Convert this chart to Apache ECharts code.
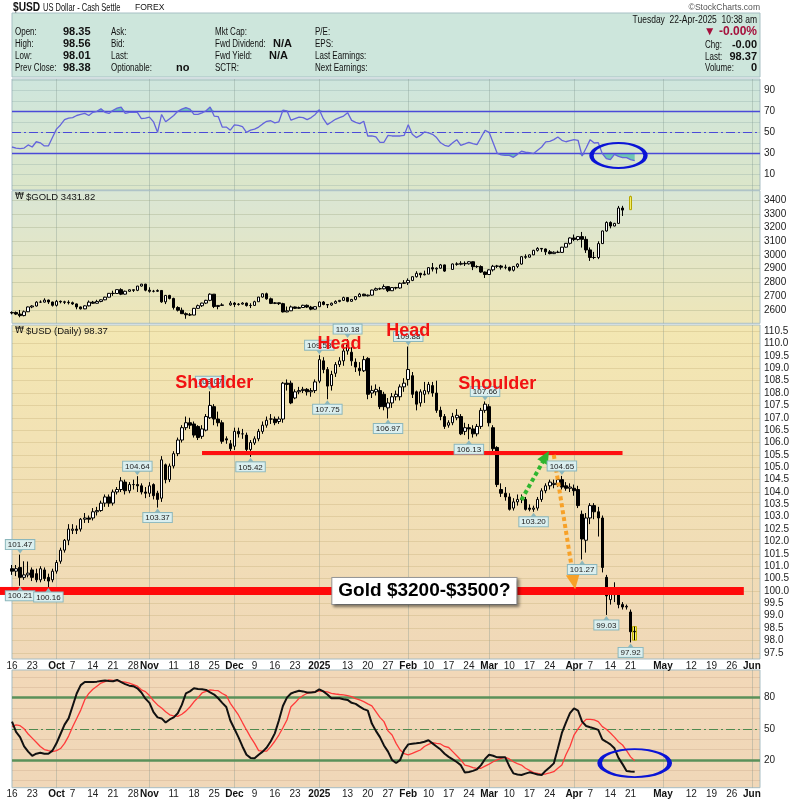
<!DOCTYPE html>
<html><head><meta charset="utf-8">
<script src="https://cdn.jsdelivr.net/npm/echarts@6/dist/echarts.min.js"></script>
<style>html,body{margin:0;padding:0;background:#fff}#c{width:798px;height:800px}</style>
</head><body><div id="c"></div><script>
// ---------- DATA ----------
const firstDay = '2024-09-16', lastDay = '2025-06-04';
const holidays = ['2024-12-25', '2025-01-01'];
const tickLabels = [['2024-09-16','16'],['2024-09-23','23'],['2024-10-01','Oct'],['2024-10-07','7'],['2024-10-14','14'],['2024-10-21','21'],['2024-10-28','28'],['2024-11-01','Nov'],['2024-11-11','11'],['2024-11-18','18'],['2024-11-25','25'],['2024-12-02','Dec'],['2024-12-09','9'],['2024-12-16','16'],['2024-12-23','23'],['2025-01-02','2025'],['2025-01-13','13'],['2025-01-20','20'],['2025-01-27','27'],['2025-02-03','Feb'],['2025-02-10','10'],['2025-02-17','17'],['2025-02-24','24'],['2025-03-03','Mar'],['2025-03-10','10'],['2025-03-17','17'],['2025-03-24','24'],['2025-04-01','Apr'],['2025-04-07','7'],['2025-04-14','14'],['2025-04-21','21'],['2025-05-01','May'],['2025-05-12','12'],['2025-05-19','19'],['2025-05-26','26'],['2025-06-02','Jun']];
const monthStarts = ['2024-10-01','2024-11-01','2024-12-02','2025-01-02','2025-02-03','2025-03-03','2025-04-01','2025-05-01','2025-06-02'];

// $USD daily [open, close, low, high]
const usd = [
[100.90,100.80,100.65,101.05],[100.80,100.90,100.60,101.05],[100.95,100.55,100.21,101.47],[100.55,100.65,100.45,101.20],[100.65,100.72,100.55,101.19],
[100.85,100.55,100.40,100.95],[100.70,100.45,100.35,100.90],[100.45,100.90,100.35,101.00],[100.85,100.50,100.40,100.95],[100.55,100.40,100.16,100.70],
[100.45,100.80,100.35,100.90],[100.80,101.15,100.70,101.25],[101.20,101.65,101.10,101.75],[101.65,102.05,101.55,102.10],[102.05,102.50,101.85,102.70],
[102.45,102.50,102.30,102.70],[102.50,102.45,102.30,102.65],[102.50,102.90,102.40,102.95],[102.90,102.95,102.75,103.15],[102.95,102.90,102.75,103.05],
[102.95,103.20,102.85,103.35],[103.20,103.25,103.05,103.40],[103.25,103.55,103.20,103.65],[103.55,103.80,103.40,103.90],[103.80,103.55,103.40,103.90],
[103.55,104.00,103.45,104.10],[104.00,104.10,103.90,104.20],[104.10,104.45,104.00,104.60],[104.40,104.05,103.90,104.50],[104.05,104.30,103.95,104.40],
[104.30,104.30,104.10,104.50],[104.30,104.25,104.00,104.64],[104.25,104.00,103.90,104.35],[104.00,103.95,103.75,104.20],[103.95,104.25,103.80,104.40],
[104.30,103.85,103.70,104.35],[103.95,103.70,103.37,104.05],[103.75,105.30,103.60,105.45],[105.10,104.50,104.35,105.15],[104.50,105.05,104.40,105.15],
[105.05,105.55,104.95,105.65],[105.55,106.10,105.45,106.20],[106.10,106.60,106.00,106.70],[106.60,106.80,106.50,107.05],[106.80,106.70,106.55,107.00],
[106.75,106.30,106.20,106.85],[106.65,106.20,106.10,106.70],[106.25,106.55,106.15,106.70],[106.50,107.05,106.45,107.15],[107.00,107.50,106.95,108.07],
[107.45,106.95,106.70,107.55],[106.95,106.80,106.65,107.25],[106.80,106.05,105.95,106.90],[106.15,106.10,105.95,106.25],[105.95,105.75,105.65,106.10],
[105.85,106.45,105.70,106.60],[106.45,106.35,106.20,106.60],[106.35,106.35,106.15,106.55],[106.30,105.72,105.60,106.40],[105.72,106.00,105.42,106.10],
[105.98,106.15,105.90,106.25],[106.15,106.45,106.05,106.55],[106.45,106.70,106.35,106.85],[106.70,106.90,106.60,107.05],[106.95,106.95,106.75,107.15],
[106.95,106.80,106.70,107.05],[106.85,106.95,106.75,107.05],[106.95,108.40,106.80,108.45],[108.40,108.35,108.10,108.55],[108.40,107.60,107.55,108.50],
[107.80,108.05,107.75,108.15],[108.05,108.10,107.95,108.25],[108.10,108.15,108.00,108.25],[108.15,108.05,107.90,108.20],[108.05,108.10,107.85,108.20],
[108.10,108.45,108.00,108.55],[108.48,109.35,108.40,109.53],[109.30,108.95,108.80,109.45],[108.95,108.28,107.75,109.05],[108.30,108.75,108.10,108.90],
[108.80,109.15,108.65,109.25],[109.15,109.30,109.05,109.45],[109.30,109.70,109.10,109.95],[109.70,109.95,109.55,110.18],[109.65,109.30,109.10,109.85],
[109.25,109.05,108.85,109.40],[109.00,108.90,108.70,109.25],[108.90,109.35,108.85,109.50],[109.40,107.95,107.75,109.45],[108.00,108.10,107.80,108.30],
[108.05,108.15,107.90,108.35],[108.10,107.45,107.35,108.25],[107.95,107.45,107.30,108.05],[107.40,107.60,106.97,107.80],[107.60,107.85,107.40,108.00],
[107.85,107.95,107.70,108.10],[107.85,108.25,107.70,108.35],[108.25,108.40,108.05,108.60],[108.55,108.95,108.30,109.88],[108.70,107.95,107.80,108.85],
[108.05,107.55,107.30,108.10],[107.60,108.05,107.45,108.15],[107.95,108.10,107.60,108.45],[108.05,108.35,107.95,108.45],[108.30,108.00,107.85,108.45],
[108.00,107.30,107.20,108.50],[107.30,107.05,106.90,107.45],[107.05,106.65,106.55,107.15],[106.70,106.80,106.60,106.90],[106.80,107.05,106.70,107.20],
[107.00,107.10,106.90,107.35],[107.05,106.35,106.30,107.15],[106.45,106.60,106.30,106.80],[106.60,106.55,106.13,106.75],[106.55,106.35,106.20,106.70],
[106.35,106.65,106.25,106.75],[106.65,107.30,106.55,107.40],[107.30,107.55,107.20,107.66],[107.45,106.80,106.65,107.55],[106.60,105.75,105.60,106.70],
[105.80,104.30,104.20,105.85],[104.10,103.95,103.80,104.35],[103.95,103.80,103.65,104.20],[103.80,103.30,103.25,103.95],[103.35,103.60,103.25,103.75],
[103.60,103.70,103.45,103.90],[103.70,103.75,103.55,103.90],[103.70,103.30,103.25,103.80],[103.35,103.30,103.22,103.50],[103.30,103.35,103.20,103.45],
[103.35,103.70,103.25,103.80],[103.70,104.05,103.60,104.15],[104.05,104.25,103.95,104.35],[104.25,104.40,104.10,104.50],[104.30,104.35,104.15,104.50],
[104.30,104.50,104.20,104.60],[104.50,104.20,104.10,104.65],[104.25,104.15,104.05,104.40],[104.15,104.20,104.00,104.35],[104.15,104.05,103.85,104.30],
[104.10,103.45,103.35,104.25],[103.10,102.10,101.27,103.25],[102.05,102.95,101.55,103.15],[102.95,103.45,102.70,103.55],[103.45,103.20,102.90,103.55],
[103.20,102.95,102.20,103.40],[102.95,100.95,100.75,103.05],[100.55,99.80,99.03,100.65],[99.65,99.90,99.45,100.05],[99.85,100.10,99.55,100.35],
[100.05,99.45,99.30,100.15],[99.45,99.35,99.25,99.55],[99.35,99.38,99.25,99.45],[99.15,98.35,97.92,99.25],[98.35,98.37,98.01,98.56]
];

// $GOLD daily [open, close, low, high]; null = no bar
const gold = [
[2578,2582,2568,2590],[2582,2570,2563,2589],[2570,2559,2547,2600],[2559,2587,2554,2596],[2587,2622,2585,2625],
[2622,2629,2613,2634],[2629,2657,2625,2664],[2657,2657,2652,2670],[2657,2672,2654,2685],[2672,2658,2644,2675],
[2658,2634,2625,2660],[2634,2663,2625,2673],[2663,2659,2648,2669],[2659,2656,2643,2667],[2656,2653,2640,2670],
[2653,2644,2637,2661],[2644,2622,2605,2647],[2622,2608,2604,2625],[2608,2630,2606,2634],[2630,2657,2626,2669],
[2657,2649,2645,2666],[2649,2662,2646,2674],[2662,2674,2656,2677],[2674,2693,2671,2696],[2693,2721,2690,2723],
[2721,2720,2703,2740],[2720,2748,2717,2749],[2748,2715,2708,2758],[2715,2736,2712,2741],[2736,2747,2731,2749],
[2747,2743,2731,2749],[2743,2774,2737,2775],[2774,2788,2770,2790],[2788,2744,2736,2790],[2744,2736,2726,2765],
[2736,2736,2728,2746],[2736,2742,2731,2750],[2742,2659,2652,2745],[2659,2706,2643,2709],[2706,2684,2677,2710],
[2684,2618,2603,2689],[2618,2598,2589,2627],[2598,2573,2572,2617],[2573,2565,2536,2582],[2565,2563,2556,2578],
[2563,2612,2562,2615],[2612,2631,2609,2639],[2631,2650,2622,2653],[2650,2670,2643,2674],[2670,2715,2664,2721],
[2715,2625,2614,2716],[2625,2633,2605,2636],[2633,2637,2631,2649],null,[2637,2650,2631,2665],
[2650,2640,2622,2658],[2640,2643,2632,2650],[2643,2650,2639,2657],[2650,2632,2625,2654],[2632,2633,2614,2649],
[2633,2660,2630,2667],[2660,2694,2660,2695],[2694,2718,2690,2721],[2718,2681,2675,2726],[2681,2648,2643,2690],
[2648,2652,2643,2658],[2652,2646,2636,2654],[2646,2586,2582,2652],[2586,2594,2583,2625],[2594,2622,2592,2632],
[2622,2612,2608,2625],[2612,2618,2608,2625],[2618,2634,2615,2638],[2634,2621,2614,2640],[2621,2606,2598,2630],
[2606,2624,2603,2627],[2624,2658,2622,2661],[2658,2640,2634,2665],[2640,2636,2614,2642],[2636,2649,2630,2654],
[2649,2662,2645,2670],[2662,2670,2656,2673],[2670,2690,2665,2697],[2690,2663,2656,2692],[2663,2677,2660,2680],
[2677,2697,2670,2700],[2697,2715,2693,2724],[2715,2703,2701,2718],[2703,2708,2698,2712],[2708,2745,2704,2748],
[2745,2755,2741,2763],[2755,2754,2746,2763],[2754,2770,2750,2786],[2770,2740,2730,2772],[2740,2763,2738,2765],
[2763,2760,2749,2768],[2760,2794,2755,2799],[2794,2798,2790,2817],[2798,2815,2782,2830],[2815,2842,2810,2845],
[2842,2867,2836,2882],[2867,2856,2834,2870],[2856,2861,2852,2886],[2861,2908,2860,2911],[2908,2898,2880,2942],
[2898,2904,2865,2910],[2904,2928,2900,2935],[2928,2883,2877,2930],null,[2895,2935,2893,2938],
[2935,2933,2922,2947],[2933,2939,2925,2955],[2939,2936,2920,2954],[2936,2951,2930,2956],[2951,2915,2890,2953],
[2915,2916,2906,2925],[2916,2876,2870,2925],[2876,2858,2833,2880],[2858,2892,2856,2896],[2892,2918,2880,2928],
[2918,2920,2905,2928],[2920,2911,2894,2928],[2911,2910,2896,2930],[2910,2889,2880,2915],[2889,2917,2880,2920],
[2917,2934,2905,2940],[2934,2988,2930,2990],[2988,2984,2972,3005],[2984,3001,2982,3004],[3001,3034,2999,3038],
[3034,3048,3025,3057],[3048,3044,3023,3047],[3044,3023,3000,3047],[3023,3010,3005,3036],[3010,3020,3007,3027],
[3020,3019,3014,3032],[3019,3057,3016,3059],[3057,3085,3054,3087],[3085,3124,3076,3128],[3124,3113,3101,3149],
[3113,3134,3105,3137],[3134,3114,3054,3168],[3114,3037,3015,3136],[3037,2982,2957,3055],[2982,2982,2970,3023],
[2982,3083,2970,3100],[3083,3175,3080,3177],[3175,3237,3170,3245],[3237,3211,3194,3245],[3211,3230,3209,3234],
[3230,3342,3229,3357],[3342,3327,3284,3358],null,[3330,3425,3328,3431.82]
];

// RSI(14) of $USD
const rsi = [36,35,34.5,35,38,36,41,40,37,37,45,53,57,62,63.5,64,66,67,68,66,69,70,72.5,69,68,71,73,74,68,69,69,69,63,63.5,64.5,60,50,67,60,63,66,70,72,73.5,72,67,67,68.5,70.5,74,65.5,65,55,55,52,57,56.5,55.5,50,52,53,55,58,60.5,61,59,60,71,70.5,61.5,63,64.5,64,62,64,67,71.5,63,57.3,59.8,62.4,64,65.5,68.7,61.4,59.5,58.3,60.5,46.5,46.5,45.6,40.5,40.5,47,46.5,46.5,46.5,47.1,57.3,48.1,45,47,50.3,49.5,48.1,45,40,37.6,36.7,40,43,37.6,39,40.5,39.2,38.3,45,51.9,50,40,30,28.5,28,28,26.2,29,32,31,30.6,29.7,33,36,40.8,41.4,43,45.6,42.4,41,42,43,42.4,27.4,35,43,39.8,40.1,29.7,24.9,24,29,27,25.9,25.9,24,23];
// Slow stochastics %K (black) and %D (red)
const stochK = [57,47,42,33,28,24,26,27,26,26,29,36,45,54,60,72,84,92,95,95,95,95.4,96,96.4,96,95.7,97,95,93,91.5,91,89,85,79,75,66,61,60,56,59,61,65,73,84,86,89,88.3,88,87.4,85,83,79.4,75,71,58,50,42,33,25,22,21.6,25,28,32,38,45.6,58,72,80,84,85.5,86.7,86,85,85,85.5,88,86,83,79.4,79.4,79.4,78.5,77.8,75,74,71.3,69,67.5,55,48,42,34,28,20,17,20,29.6,35,35.7,36,36.5,37.5,39,36,33,30,26,23,20.6,18,15,8,8.5,9.5,11,15,21,25,24,22.5,22.5,22.5,14,7.1,6,5.5,6.8,8.1,7.1,6,5.5,9.7,13,16.7,31,46,56,65,69.7,67.5,56.9,52.7,51.5,50.4,48.9,39.9,37.5,35,31.2,22,16,9.4,9,8.7];
const stochD = [52,53.7,53,50,45,41,37,33,30,28.9,28,29,31,36,43,52,60,68,78,84,88,91,94,95.5,97,96.7,96.4,95.4,95,94,92.5,91,87.5,85.8,82,77,73,70,66.5,63.5,62.5,62,64,67,71,76,80,84.5,86,87.4,87,86.7,84,82,74.5,69,63.3,56,48.9,42,36,29,28.5,28.5,32.8,38,44,51,58.5,71.3,75,79.4,82,84.2,85,85.5,86.4,86,85.5,84.2,83.5,83,82.6,82,81,79,77.8,76.1,74,72,66.5,61,56.9,48,44,36,29.6,26,25,26.4,28,29.6,33,35,36.7,36,35.4,33,32,28,24,20,15,14,12.6,12,12,14,16,18.3,20,21.6,22.5,21,18.3,16.5,15.1,12,10,7.8,7,6.2,6.5,7.5,8.7,12,15.1,25,33,44,50,55.3,59.1,59.1,58.5,56.9,52.1,49.5,46,42,37.5,34.4,29,23,19.3];

const usdTicks = [97.5,98.0,98.5,99.0,99.5,100.0,100.5,101.0,101.5,102.0,102.5,103.0,103.5,104.0,104.5,105.0,105.5,106.0,106.5,107.0,107.5,108.0,108.5,109.0,109.5,110.0,110.5];
const goldTicks = [2600,2700,2800,2900,3000,3100,3200,3300,3400];
const rsiTicks = [10,30,50,70,90];
const stochTicks = [20,50,80];
const oscGrid = [0,10,20,30,40,50,60,70,80,90,100];

// annotated highs (h) / lows (l): [index, 'h'|'l']
const usdNotes = [[2,'h'],[2,'l'],[9,'l'],[31,'h'],[36,'l'],[49,'h'],[59,'l'],[76,'h'],[78,'l'],[83,'h'],[93,'l'],[98,'h'],[113,'l'],[117,'h'],[129,'l'],[136,'h'],[141,'l'],[147,'l'],[153,'l']];
const patternLabels = [['Shoulder',50,108.41],['Head',81,109.98],['Head',98,110.51],['Shoulder',120,108.37]];

// ---------- BUILD ----------
const categories = [];
(function(){
  const d = new Date(firstDay + 'T00:00:00Z'), end = new Date(lastDay + 'T00:00:00Z');
  while (d <= end) {
    const wd = d.getUTCDay(), s = d.toISOString().slice(0,10);
    if (wd !== 0 && wd !== 6 && holidays.indexOf(s) < 0) categories.push(s);
    d.setUTCDate(d.getUTCDate() + 1);
  }
})();
const labelMap = {}; tickLabels.forEach(t => labelMap[t[0]] = t[1]);
const monthSet = new Set(monthStarts);
const F = '"Liberation Sans", Arial, sans-serif';
const LG = (a, b) => new echarts.graphic.LinearGradient(0, 0, 0, 1, [{offset:0,color:a},{offset:1,color:b}]);

function xAx(gi, show) {
  return {type:'category', gridIndex:gi, data:categories, boundaryGap:false,
    axisLine:{show:false}, axisTick:{show:false},
    axisLabel:{show:show, interval:(i,v)=>labelMap[v]!==undefined, margin:2, fontSize:10, color:'#222', fontFamily:F,
      formatter:v => monthSet.has(v) ? '{b|'+labelMap[v]+'}' : labelMap[v],
      rich:{b:{fontWeight:'bold', fontSize:10, color:'#111', fontFamily:F}}},
    splitLine:{show:true, interval:(i,v)=>monthSet.has(v), lineStyle:{color:'rgba(130,150,140,0.35)', width:1}}};
}
function yAx(gi, min, max, ticks, fmt) {
  return {type:'value', gridIndex:gi, position:'right', min:min, max:max, scale:true,
    axisLine:{show:false}, axisTick:{show:false}, splitLine:{show:false},
    axisLabel:{customValues:ticks, fontSize:10, color:'#222', margin:4, fontFamily:F, formatter:fmt || (v=>String(v))}};
}
function gridLines(vals, color) {
  return {silent:true, symbol:'none', z:1, animation:false, label:{show:false},
    lineStyle:{color:color, width:1, type:'solid'}, data: vals.map(v=>({yAxis:v}))};
}
const transparent = 'rgba(0,0,0,0)';
const noteMarks = [], notePtrs = [];
usdNotes.forEach(n => {
  const i = n[0], hi = n[1]==='h', v = hi ? usd[i][3] : usd[i][2];
  noteMarks.push({coord:[i, v], label:{position: hi?'top':'bottom', distance: 5, formatter: v.toFixed(2)}});
  notePtrs.push({coord:[i, v], symbolRotate: hi?180:0, symbolOffset:[0, hi?-3:3]});
});

const usdMain = usd.map((r, i) => i === usd.length-1 ? {value:r, itemStyle:{color:transparent, borderColor:'#000'}} : r);
const usdHighlight = usd.map((r, i) => i === usd.length-1 ? [r[2], r[3], r[2], r[3]] : ['-','-','-','-']);
const goldData = gold.map((r, i) => {
  if (!r) return ['-','-','-','-'];
  if (i === gold.length-1) return {value:r, itemStyle:{color:'#f4ee6a', borderColor:'#b5a600', borderWidth:1}};
  return r;
});

const gridStyle = {show:true, borderColor:'#a7bdc3', borderWidth:1, left:12, right:38, containLabel:false};
const option = {
  animation:false,
  grid:[
    Object.assign({top:79, height:111, backgroundColor:LG('#cee6dd','#dce6c9')}, gridStyle),
    Object.assign({top:190.7, height:132.6, backgroundColor:LG('#d9e6d5','#eee6b8')}, gridStyle),
    Object.assign({top:325, height:334, backgroundColor:LG('#f3e7b2','#f0d8b8')}, gridStyle),
    Object.assign({top:670, height:117.7, backgroundColor:LG('#f2d8b8','#f0d7b8')}, gridStyle)
  ],
  xAxis:[xAx(0,false), xAx(1,false), xAx(2,true), xAx(3,true)],
  yAxis:[
    yAx(0, -4.95, 100.76, rsiTicks),
    yAx(1, 2503, 3468, goldTicks),
    yAx(2, 97.25, 110.75, usdTicks, v=>v.toFixed(1)),
    yAx(3, -6.7, 106.6, stochTicks)
  ],
  series:[
    {type:'line', xAxisIndex:0, yAxisIndex:0, data:rsi, symbol:'none', lineStyle:{opacity:0}, silent:true, z:1,
      markLine:gridLines(oscGrid, 'rgba(120,150,150,0.25)')},
    {type:'line', xAxisIndex:0, yAxisIndex:0, data:rsi.map(v=>Math.max(v,70)), symbol:'none', lineStyle:{opacity:0}, silent:true, z:2,
      areaStyle:{origin:70, color:'#5cbfae', opacity:0.85}},
    {type:'line', xAxisIndex:0, yAxisIndex:0, data:rsi.map(v=>Math.min(v,30)), symbol:'none', lineStyle:{opacity:0}, silent:true, z:2,
      areaStyle:{origin:30, color:'#5cbfae', opacity:0.85}},
    {type:'line', xAxisIndex:0, yAxisIndex:0, data:rsi, symbol:'none', lineStyle:{color:'#6464dc', width:1.3}, z:4, silent:true,
      markLine:{silent:true, symbol:'none', z:3, label:{show:false}, animation:false, data:[
        {yAxis:70, lineStyle:{color:'#4a4ad8', width:1.3, type:'solid'}},
        {yAxis:30, lineStyle:{color:'#4a4ad8', width:1.3, type:'solid'}},
        {yAxis:50, lineStyle:{color:'#4a4ad8', width:1.2, type:[9,3,2,3]}}]},
      markPoint:{silent:true, z:6, animation:false, data:[{coord:[150, 27.9], symbol:'circle', symbolSize:[54,25],
        itemStyle:{color:transparent, borderColor:'#0a14d6', borderWidth:3}, label:{show:false}}]}},
    {type:'candlestick', xAxisIndex:1, yAxisIndex:1, data:goldData, barWidth:3, silent:true, z:4,
      itemStyle:{color:'#ffffff', color0:'#000000', borderColor:'#000000', borderColor0:'#000000', borderWidth:1},
      markLine:gridLines(goldTicks, 'rgba(150,160,120,0.3)')},
    {type:'candlestick', xAxisIndex:2, yAxisIndex:2, data:usdHighlight, barWidth:5, silent:true, z:3,
      itemStyle:{color:'#f4ee6a', color0:'#f4ee6a', borderColor:'#c2b200', borderColor0:'#c2b200', borderWidth:1},
      markLine:gridLines(usdTicks, 'rgba(190,165,110,0.3)')},
    {type:'candlestick', xAxisIndex:2, yAxisIndex:2, data:usdMain, barWidth:3, silent:true, z:4,
      itemStyle:{color:'#ffffff', color0:'#000000', borderColor:'#000000', borderColor0:'#000000', borderWidth:1},
      markLine:{silent:true, symbol:'none', z:5, label:{show:false}, animation:false, data:[
        [{coord:[47,105.59]},{coord:[151,105.59], lineStyle:{color:'#ff1010', width:4, type:'solid'}}],
        [{coord:[0,100.0]},{coord:[181,100.0], lineStyle:{color:'#ff0a0a', width:8, type:'solid'}}],
        [{coord:[126,103.68], symbol:'none'},{coord:[132,105.43], symbol:'triangle', symbolSize:[12,13], lineStyle:{color:'#2fb52f', width:4, type:[4,3]}, itemStyle:{color:'#2fb52f'}}],
        [{coord:[134,105.5], symbol:'none'},{coord:[139,100.37], symbol:'triangle', symbolSize:[14,15], lineStyle:{color:'#f7a128', width:4, type:[4,3]}, itemStyle:{color:'#f7a128'}}]
      ]},
      markPoint:{silent:true, z:7, animation:false, symbol:'rect', symbolSize:1, itemStyle:{color:transparent},
        label:{show:true, fontSize:8, color:'#222', fontFamily:F, backgroundColor:'#dbefef', borderColor:'#8cb7bc', borderWidth:1, padding:[1,2,0,2]},
        data: noteMarks.concat(
          patternLabels.map(p => ({coord:[p[1], p[2]], label:{position:'inside', formatter:p[0], fontSize:18, fontWeight:'bold', color:'#f21212', backgroundColor:transparent, borderWidth:0, padding:0}})),
          [{coord:[102, 100.0], label:{position:'inside', formatter:'Gold $3200-$3500?', fontSize:19, fontWeight:'bold', color:'#000', backgroundColor:'#fff', borderColor:'#999', borderWidth:1, padding:[4,6,3,6], shadowColor:'rgba(0,0,0,0.45)', shadowBlur:3, shadowOffsetX:2, shadowOffsetY:2}}],
          notePtrs.map(p => ({coord:p.coord, symbol:'triangle', symbolSize:[6,4], symbolRotate:p.symbolRotate, symbolOffset:p.symbolOffset, itemStyle:{color:'#8cb7bc'}, label:{show:false}}))
        )}},
    {type:'line', xAxisIndex:3, yAxisIndex:3, data:stochD, symbol:'none', lineStyle:{opacity:0}, silent:true, z:1,
      markLine:gridLines(oscGrid, 'rgba(170,130,100,0.2)')},
    {type:'line', xAxisIndex:3, yAxisIndex:3, data:stochD, symbol:'none', lineStyle:{color:'#ff3a3a', width:1.3}, z:4, silent:true,
      markLine:{silent:true, symbol:'none', z:3, label:{show:false}, animation:false, data:[
        {yAxis:80, lineStyle:{color:'#5a915a', width:2.5, type:'solid'}},
        {yAxis:20, lineStyle:{color:'#5a915a', width:2.5, type:'solid'}},
        {yAxis:50, lineStyle:{color:'#4f8a4f', width:1.2, type:[9,3,2,3]}}]}},
    {type:'line', xAxisIndex:3, yAxisIndex:3, data:stochK, symbol:'none', lineStyle:{color:'#111', width:2}, z:5, silent:true,
      markPoint:{silent:true, z:6, animation:false, data:[{coord:[154, 17.0], symbol:'circle', symbolSize:[70,28],
        itemStyle:{color:transparent, borderColor:'#0a14d6', borderWidth:3}, label:{show:false}}]}}
  ]
};

function T(x, y, text, o) {
  o = o || {};
  return {type:'text', x:x, y:y, z:20, silent:true, scaleX:o.sx||1, scaleY:1,
    style:{text:text, fill:o.fill||'#111',
    font:(o.bold?'bold ':'') + (o.size||10) + 'px ' + (o.family||F), textAlign:o.align||'left', textVerticalAlign:'middle'}};
}
const N = 0.8; // condensed header font
const G = [
  {type:'rect', shape:{x:12, y:13, width:748, height:64}, style:{fill:'#cde6dc', stroke:'#a7c0c4', lineWidth:1}, z:0, silent:true},
  T(13, 8, '$USD', {bold:true, size:12, sx:0.85}), T(43, 8, 'US Dollar - Cash Settle', {size:10, sx:0.75}), T(135, 8, 'FOREX', {size:9, sx:0.95}),
  T(760, 8, '\u00a9StockCharts.com', {size:9, align:'right', fill:'#555', sx:0.95}),
  T(15, 32, 'Open:', {sx:N}), T(15, 44, 'High:', {sx:N}), T(15, 56, 'Low:', {sx:N}), T(15, 68, 'Prev Close:', {sx:N}),
  T(63, 32, '98.35', {bold:true, size:11}), T(63, 44, '98.56', {bold:true, size:11}), T(63, 56, '98.01', {bold:true, size:11}), T(63, 68, '98.38', {bold:true, size:11}),
  T(111, 32, 'Ask:', {sx:N}), T(111, 44, 'Bid:', {sx:N}), T(111, 56, 'Last:', {sx:N}), T(111, 68, 'Optionable:', {sx:N}), T(176, 68, 'no', {bold:true, size:11}),
  T(215, 32, 'Mkt Cap:', {sx:N}), T(215, 44, 'Fwd Dividend:', {sx:N}), T(215, 56, 'Fwd Yield:', {sx:N}), T(215, 68, 'SCTR:', {sx:N}),
  T(273, 44, 'N/A', {bold:true, size:11}), T(269, 56, 'N/A', {bold:true, size:11}),
  T(315, 32, 'P/E:', {sx:N}), T(315, 44, 'EPS:', {sx:N}), T(315, 56, 'Last Earnings:', {sx:N}), T(315, 68, 'Next Earnings:', {sx:N}),
  T(757, 20, 'Tuesday  22-Apr-2025  10:38 am', {align:'right', sx:0.85}),
  T(757, 32, '\u25BC -0.00%', {align:'right', bold:true, size:12, fill:'#a5103c'}),
  T(705, 45, 'Chg:', {sx:N}), T(757, 45, '-0.00', {align:'right', bold:true, size:11}),
  T(705, 57, 'Last:', {sx:N}), T(757, 57, '98.37', {align:'right', bold:true, size:11}),
  T(705, 68, 'Volume:', {sx:N}), T(757, 68, '0', {align:'right', bold:true, size:11}),
  T(15, 197, '\u20A9', {size:9, family:'"DejaVu Sans", sans-serif'}), T(26, 197, '$GOLD 3431.82', {size:9.5}),
  T(15, 331, '\u20A9', {size:9, family:'"DejaVu Sans", sans-serif'}), T(26, 331, '$USD (Daily) 98.37', {size:9.5})
];
option.graphic = {elements: G};

const chart = echarts.init(document.getElementById('c'), null, {renderer:'canvas', width:798, height:800});
chart.setOption(option);
const p0 = chart.convertToPixel({xAxisIndex:2, yAxisIndex:2}, [0, 100.0]);
chart.setOption({graphic:{elements: G.concat([{type:'line', z:3, silent:true, shape:{x1:0, y1:p0[1], x2:p0[0], y2:p0[1]}, style:{stroke:'#ff0a0a', lineWidth:8}}])}});
</script></body></html>
